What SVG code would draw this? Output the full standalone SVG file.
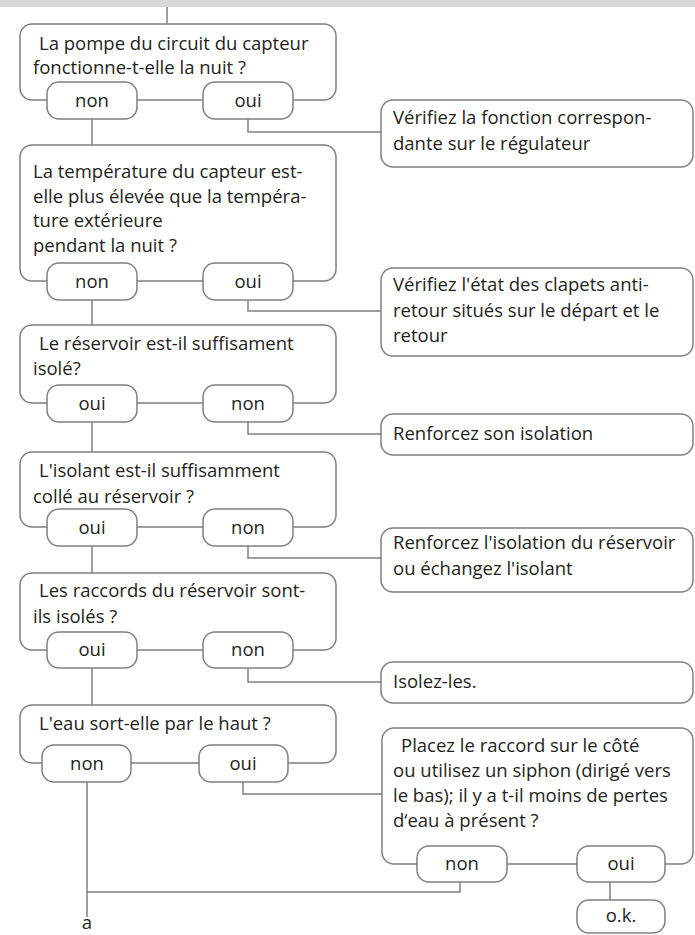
<svg xmlns="http://www.w3.org/2000/svg" width="695" height="935" viewBox="0 0 695 935">
<style>
.box{fill:#fff;stroke:#808080;stroke-width:1.5}
.pill{fill:#fff;stroke:#808080;stroke-width:1.5}
.ln{fill:none;stroke:#808080;stroke-width:1.5}
text{font-family:"Open Sans","Liberation Sans",sans-serif;font-size:18.5px;fill:#231f20}
.c{text-anchor:middle}
</style>
<rect x="0" y="0" width="695" height="7" fill="#d9d9d9"/>
<g id="connectors">
<path class="ln" d="M167 7V24"/>
<path class="ln" d="M92 119V145"/>
<path class="ln" d="M248 119V132H381"/>
<path class="ln" d="M92 300V325"/>
<path class="ln" d="M248 300V311H381"/>
<path class="ln" d="M92 422V452"/>
<path class="ln" d="M248 422V434H381"/>
<path class="ln" d="M92 546V573"/>
<path class="ln" d="M248 546V558H381"/>
<path class="ln" d="M92 668V705"/>
<path class="ln" d="M248 668V682H381"/>
<path class="ln" d="M87 782V917"/>
<path class="ln" d="M243 782V794H382"/>
<path class="ln" d="M460 882V892H87"/>
<path class="ln" d="M610 882V900"/>
</g>
<g id="q1">
<rect class="box" x="20" y="24" width="316" height="76" rx="12"/>
<text x="39" y="50">La pompe du circuit du capteur</text>
<text x="33" y="74">fonctionne-t-elle la nuit ?</text>
<rect class="pill" x="47" y="82" width="90" height="37" rx="12"/><text class="c" x="92" y="107">non</text>
<rect class="pill" x="203" y="82" width="90" height="37" rx="12"/><text class="c" x="248" y="107">oui</text>
</g>
<g id="r1">
<rect class="box" x="381" y="100" width="312" height="67" rx="12"/>
<text x="393" y="124">Vérifiez la fonction correspon-</text>
<text x="393" y="150">dante sur le régulateur</text>
</g>
<g id="q2">
<rect class="box" x="20" y="145" width="316" height="136" rx="12"/>
<text x="33" y="178">La température du capteur est-</text>
<text x="33" y="203">elle plus élevée que la tempéra-</text>
<text x="33" y="227">ture extérieure</text>
<text x="33" y="252">pendant la nuit ?</text>
<rect class="pill" x="47" y="263" width="90" height="37" rx="12"/><text class="c" x="92" y="288">non</text>
<rect class="pill" x="203" y="263" width="90" height="37" rx="12"/><text class="c" x="248" y="288">oui</text>
</g>
<g id="r2">
<rect class="box" x="381" y="268" width="312" height="88" rx="12"/>
<text x="393" y="291">Vérifiez l'état des clapets anti-</text>
<text x="393" y="317">retour situés sur le départ et le</text>
<text x="393" y="342">retour</text>
</g>
<g id="q3">
<rect class="box" x="20" y="325" width="316" height="78" rx="12"/>
<text x="39" y="350">Le réservoir est-il suffisament</text>
<text x="33" y="375">isolé?</text>
<rect class="pill" x="47" y="385" width="90" height="37" rx="12"/><text class="c" x="92" y="410">oui</text>
<rect class="pill" x="203" y="385" width="90" height="37" rx="12"/><text class="c" x="248" y="410">non</text>
</g>
<g id="r3">
<rect class="box" x="381" y="414" width="312" height="41" rx="12"/>
<text x="393" y="440">Renforcez son isolation</text>
</g>
<g id="q4">
<rect class="box" x="20" y="452" width="316" height="75" rx="12"/>
<text x="39" y="477">L'isolant est-il suffisamment</text>
<text x="33" y="503">collé au réservoir ?</text>
<rect class="pill" x="47" y="509" width="90" height="37" rx="12"/><text class="c" x="92" y="534">oui</text>
<rect class="pill" x="203" y="509" width="90" height="37" rx="12"/><text class="c" x="248" y="534">non</text>
</g>
<g id="r4">
<rect class="box" x="381" y="528" width="312" height="64" rx="12"/>
<text x="393" y="549">Renforcez l'isolation du réservoir</text>
<text x="393" y="575">ou échangez l'isolant</text>
</g>
<g id="q5">
<rect class="box" x="20" y="573" width="316" height="77" rx="12"/>
<text x="39" y="597">Les raccords du réservoir sont-</text>
<text x="33" y="623">ils isolés ?</text>
<rect class="pill" x="47" y="632" width="90" height="36" rx="12"/><text class="c" x="92" y="656">oui</text>
<rect class="pill" x="203" y="632" width="90" height="36" rx="12"/><text class="c" x="248" y="656">non</text>
</g>
<g id="r5">
<rect class="box" x="381" y="662" width="312" height="41" rx="12"/>
<text x="393" y="688">Isolez-les.</text>
</g>
<g id="q6">
<rect class="box" x="20" y="705" width="316" height="58" rx="12"/>
<text x="39" y="730">L'eau sort-elle par le haut ?</text>
<rect class="pill" x="42" y="745" width="89" height="37" rx="12"/><text class="c" x="87" y="770">non</text>
<rect class="pill" x="199" y="745" width="89" height="37" rx="12"/><text class="c" x="243" y="770">oui</text>
</g>
<g id="r6">
<rect class="box" x="382" y="728" width="311" height="136" rx="12"/>
<text x="401" y="752">Placez le raccord sur le côté</text>
<text x="393" y="777">ou utilisez un siphon (dirigé vers</text>
<text x="393" y="802">le bas); il y a t-il moins de pertes</text>
<text x="393" y="827">d‘eau à présent ?</text>
<rect class="pill" x="417" y="846" width="90" height="36" rx="12"/><text class="c" x="462" y="870">non</text>
<rect class="pill" x="577" y="846" width="88" height="36" rx="12"/><text class="c" x="621" y="870">oui</text>
</g>
<g id="ok">
<rect class="pill" x="577" y="900" width="88" height="33" rx="12"/><text class="c" x="621" y="922">o.k.</text>
</g>
<g id="a">
<text class="c" x="87" y="929">a</text>
</g>
</svg>
